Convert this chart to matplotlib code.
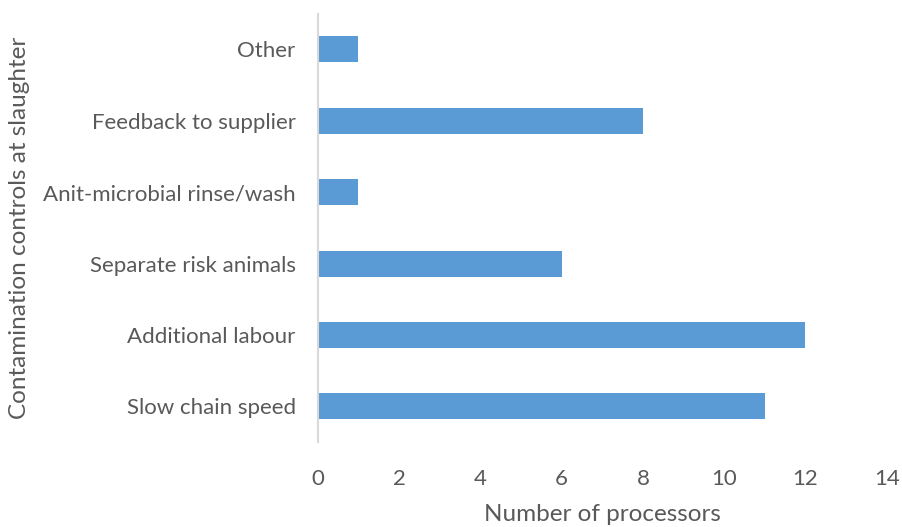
import matplotlib.pyplot as plt

# number of processors using each contamination control
controls = ["Slow chain speed", "Additional labour", "Separate risk animals",
            "Anit-microbial rinse/wash", "Feedback to supplier", "Other"]
processors = [11, 12, 6, 1, 8, 1]
xticks = [0, 2, 4, 6, 8, 10, 12, 14]

plt.rcParams['font.family'] = ['Lato', 'DejaVu Sans']
grey = '#595959'

fig = plt.figure(figsize=(9.03, 5.27), dpi=100)
ax = fig.add_axes([0.352, 0.161, 0.630, 0.813])

ax.barh(range(len(controls)), processors, height=0.364, color='#5B9BD5')
ax.set_ylim(-0.5, len(controls) - 0.5)
ax.set_xlim(0, 14)
ax.set_xticks(xticks)
ax.set_yticks(range(len(controls)))
ax.set_yticklabels(controls)

for s in ['top', 'right', 'bottom']:
    ax.spines[s].set_visible(False)
ax.spines['left'].set_color('#D9D9D9')
ax.spines['left'].set_linewidth(1.5)
ax.tick_params(axis='both', length=0, labelsize=16, colors=grey)
ax.tick_params(axis='x', pad=19)
ax.tick_params(axis='y', pad=16)

ax.set_xlabel("Number of processors", fontsize=17.5, color=grey, labelpad=11)
ax.set_ylabel("Contamination controls at slaughter", fontsize=17.5, color=grey)
ax.yaxis.set_label_coords(-0.506, 0.5)

plt.savefig("out.png")
